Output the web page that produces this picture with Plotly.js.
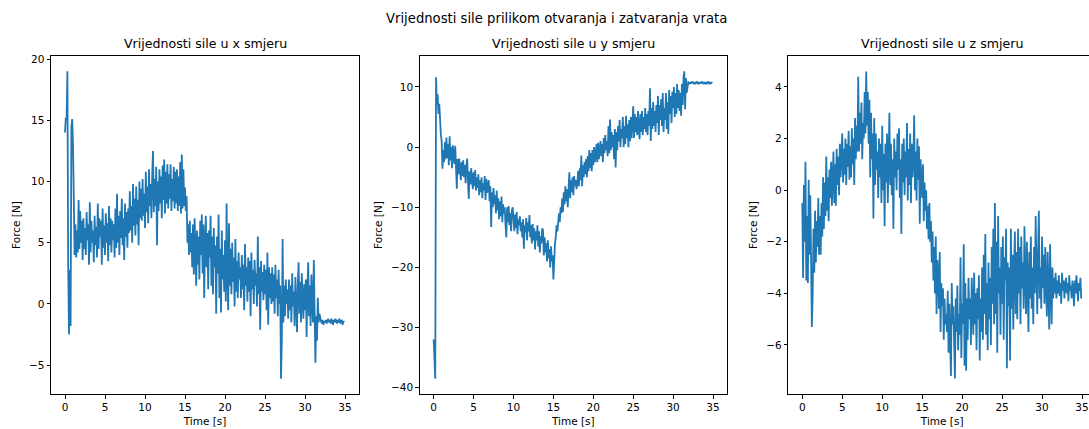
<!DOCTYPE html>
<html>
<head>
<meta charset="utf-8">
<script src="https://cdn.plot.ly/plotly-3.0.1.min.js"></script>
<style>
html,body{margin:0;padding:0;overflow:hidden;background:#fff;}
#chart{width:1100px;height:429px;}
</style>
</head>
<body>
<div id="chart"></div>
<script>
// sampling interval of the recorded signals [s]
const sampleStep = 0.1;

const forceX = [
  14, 15.2, 15, 19, 3, -2.5, 2.8, -1.8, 14.5, 15.1,
  13, 5, 4, 6.5, 3.8, 6, 4.2, 8.5, 4.5, 7.6,
  5, 6.8, 3.6, 7, 4.5, 6.2, 4, 7.5, 5.2, 6.5,
  3.2, 8.3, 4.2, 6.8, 5, 6, 3.4, 7.2, 4.8, 6.3,
  3.8, 8.2, 4.5, 7, 5.5, 6.8, 3.2, 7.8, 4.6, 6.4,
  4, 7.4, 5, 6.6, 3.5, 8, 4.8, 7, 4.2, 6.8,
  5.2, 6.5, 3.8, 7.8, 4.6, 9, 5, 7.2, 4, 7.6,
  5.4, 8.6, 4.8, 7, 3.6, 8.2, 5.5, 7.5, 4.6, 7.8,
  5.8, 9.2, 6, 8, 5, 9.8, 6.4, 8.6, 5.6, 9.6,
  6.5, 8.5, 4.8, 10, 7, 9.4, 6.8, 10.2, 7.2, 9,
  6.2, 10.8, 7.5, 9.6, 6.6, 11, 8, 9.8, 7, 10.5,
  12.5, 7.5, 10.2, 8, 11.2, 4.8, 10, 7.6, 11, 8.2,
  10.4, 7, 11.3, 8.5, 11.8, 7.4, 10.8, 8.2, 11.4, 7.8,
  10.6, 8.6, 11.4, 7.6, 10.2, 8.4, 11.2, 7.8, 10.8, 8.2,
  11, 7.6, 10.4, 8, 11.6, 7.4, 12.2, 7.8, 11, 8,
  9.5, 7.6, 8.8, 5, 6.5, 4, 6.8, 4.2, 5.8, 3,
  6.5, 2.4, 7, 4.5, 1.5, 6, 3.2, 5.5, 2, 6.8,
  4, 7.3, 2.5, 6.5, 0.5, 5, 7.2, 3, 5.8, 1.2,
  6, 3.8, 7.2, 1.5, 5.5, 0.8, 6.2, 3, 4.8, -0.8,
  5.5, 2.5, 7.3, 0.5, 4.5, -0.7, 6, 2, 4, 1,
  5.2, 0.2, 8.2, 2.5, -0.5, 6.6, 1.5, 4.5, 0.8, 5,
  1.8, 3.8, -0.2, 5.3, 1, 3.5, 0.5, 4.2, 2, 3,
  0.5, 4, 1.2, 3.2, -0.5, 4.9, 1.5, 3, 0.2, 3.8,
  1, 3.5, -1, 4.2, 1.2, 2.8, 0, 3.6, 1.5, 2.5,
  -0.2, 5.5, 0.8, 3, -2.1, 3.5, 1, 2.6, 0.3, 3.2,
  0.8, 2.8, -0.5, 4.2, -1.7, 3, 0.5, 2.5, 0, 3,
  0.2, 2.4, -0.8, 3.2, 0.5, 2, -1, 2.8, 0, 1.5,
  -6.1, -3, 5.3, -1.5, 1.5, -1, 2, 0, 1.2, -1.2,
  2, -0.5, 1.5, -1.5, 2.5, -0.2, 1, -1.8, 2.2, 0,
  -2.3, 1.5, 3.4, -0.8, 1.8, -1.5, 2.5, 0.2, -1.2, 1.6,
  -0.5, 2, -2.7, 1.2, 3.4, -1, 1.5, -1.8, 2.4, 0,
  -1.5, 3.6, -0.5, -4.8, -1, -3, 0.5, -1.5, -0.8, -1.2,
  -1.4, -1.6, -1.3, -1.7, -1.4, -1.5, -1.3, -1.6, -1.3, -1.2,
  -1.5, -1.3, -1.6, -1.2, -1.4, -1.7, -1.3, -1.5, -1.2, -1.4,
  -1.6, -1.3, -1.5, -1.2, -1.6, -1.4, -1.3, -1.7, -1.4, -1.5
];

const forceY = [
  -32, -34.5, -38.5, 11.6, 7, 8.8, 5.5, 7.2, 3, 2.2,
  1, -3.6, -0.5, -2.5, 0.8, -2, 1.6, -1.8, 0.5, -3,
  1.8, -2.2, 0, -3.5, 0.3, -1.5, -2.8, 0.2, -4, -6.9,
  -2, -4.5, -1.9, -3.8, -5.5, -2.5, -4.8, -2.2, -5, -3,
  -6, -3.2, -1.9, -5.8, -8.6, -4, -6.2, -3.5, -5.5, -7,
  -4.2, -6.5, -3.8, -7.2, -5, -6.8, -4.5, -8, -5.5, -7.5,
  -5, -8.5, -6, -7.2, -4.8, -8.8, -5.3, -7.6, -6.4, -5.5,
  -9, -6.5, -13.3, -7.5, -10, -6.8, -9.5, -8, -11, -7.2,
  -10.5, -8.5, -12, -9, -11.5, -8.2, -12.5, -9.5, -11, -10,
  -12.8, -15, -10, -12.5, -9.8, -13, -11, -14, -10.5, -10,
  -12, -14, -11.2, -13.5, -10.8, -14.5, -12, -13, -11.5, -14,
  -12.5, -15, -12, -16.9, -13, -14.2, -11.8, -15.5, -12.5, -14,
  -11.3, -15, -13, -16, -12.8, -15.5, -13.5, -17, -14, -15.5,
  -13, -16.5, -14, -17.5, -14.8, -16, -13.5, -13.8, -18, -15,
  -17.5, -16, -19, -15.5, -18.5, -17, -20, -16.5, -19, -18,
  -22, -17, -16, -15, -13, -14, -12, -11, -12.5, -10,
  -11, -8.5, -10.8, -7.5, -9.5, -6.5, -9, -7, -10, -6,
  -4.2, -8.5, -5.5, -7.5, -5, -8, -4.8, -6.5, -5.5, -7,
  -6, -4, -6.5, -3.5, -5.5, -1.4, -6.5, -3, -5, -2.5,
  -4.5, -2, -5, -1.5, -4, -0.5, -3.5, -1, -4, -0.5,
  -3, 0, -2.5, -1.5, 0.5, -2.5, 0.7, -2, -0.5, 1,
  -1.5, 0.5, -2.5, 1.5, -1, 2, -0.5, 1, -1.5, 3.5,
  -1, 4.6, -0.5, 2.5, 0, 2, -2, 3, -3.4, 2.5,
  -0.5, 3.5, 1, 4.5, 0, 3, 1.5, 5, 0, 3.5,
  0.5, 5.2, 1.5, 3.8, 0, 4.5, 1, 5, 1.5, 4,
  6.8, 1.5, 5.5, 2.5, 5, 2, 6, 3, 1.3, 5.5,
  2.5, 6, 2, 5, 3, 6.5, 2.5, 5.5, 2, 6,
  3.5, 9.8, 1, 6.5, 3, 7.5, 3.5, 6, 2.5, 7,
  4, 8.5, 2, 7, 4.5, 8, 3.5, 9, 2.5, 6.5,
  4.5, 9, 3, 7.5, 2.2, 9.5, 5.5, 8.5, 4, 9.2,
  6.5, 10, 5, 9, 5.5, 10.5, 6.5, 9.5, 6, 9,
  5.2, 10.5, 7, 11.5, 12.6, 6.3, 11.5, 9, 10.5, 10.8,
  10.7, 10.5, 10.8, 10.6, 10.9, 10.7, 10.5, 10.8, 10.6, 10.7,
  10.9, 10.6, 10.7, 10.5, 10.8, 10.6, 10.9, 10.7, 10.5, 10.8,
  10.6, 10.8, 10.5, 10.7, 10.9, 10.6, 10.7, 10.5, 10.8, 10.6
];

const forceZ = [
  -0.5, -3.4, 0.2, -2, 1.1, -3.5, -1, -3.6, 0.4, -2.5,
  -0.2, -3, -5.3, -4, -1.5, -3.2, -0.8, -2.8, -1.2, -2.2,
  -0.3, -2.5, -1, -2.5, -0.5, -1.8, 0.5, -1.5, 0.3, -1,
  1.3, -0.8, 0.5, -1.2, 0.8, -0.3, 1.1, -0.6, 0.4, 1.5,
  -0.5, 1, -0.6, 1.6, 0.2, 1.3, -0.2, 1.8, 0.5, 1.1,
  2.2, 0.3, 1.6, 0.6, 2, 0.2, 1.8, 0.9, 2.3, 0.4,
  1.7, 0.5, 2.4, 1, 2, 0.2, 2.8, 1.2, 2.5, 1.5,
  4.4, 1.5, 3, 1.8, 3.4, 1.2, 2.6, 2, 3.8, 2.2,
  4.6, 2.5, 3.8, 1.8, 3.5, 0.5, 3, 1.2, 2.2, -1.1,
  2.8, 0.2, 2.2, 0.8, 1.5, -0.3, 2, 0.5, 1.8, -0.5,
  2.5, 0, 1.4, -1.4, 1.8, 0.3, 2.2, -0.5, 1.2, 3,
  0.2, 1.8, -0.2, 1.2, -1.5, 2, 0.5, 1.5, 0, 2.2,
  0.8, 2.4, -0.3, 1.2, -1.7, 1.8, 0.3, 2, -0.2, 1.5,
  0.5, 2.6, -0.4, 1.6, 0.2, 2.2, -0.5, 1.8, 0.5, 1.2,
  2.9, 0, 1.5, -0.4, 2, 0.4, 1.7, -1.3, 1.2, 0.6,
  -0.3, 1, -1.2, 0.3, -0.8, 0, -1.5, -0.6, -1.9, -0.5,
  -2, -1.2, -2.8, -1.6, -3.5, -2.2, -4, -1.8, -4.8, -2.7,
  -3.2, -4.6, -2.4, -5.5, -3.6, -4.5, -3.8, -5.8, -4.2, -5.2,
  -4.8, -5.5, -3.9, -6.3, -4.4, -5.8, -7.2, -3.6, -5.2, -4.5,
  -6, -7.3, -4.2, -5.5, -3.7, -6.2, -4.8, -5.6, -2.6, -6.5,
  -4.4, -5.2, -2.1, -6.8, -3.6, -7, -4.2, -5.8, -3.4, -5,
  -4.2, -6, -3.4, -4.8, -5.6, -3.2, -5.2, -4, -6.2, -3.8,
  -5, -3.3, -6.6, -4.2, -5.5, -3, -5.8, -2.5, -4.8, -1.7,
  -5.6, -3.6, -6.2, -2.8, -5, -3.4, -6, -2.2, -4.4, -1.5,
  -5.2, -0.5, -4.8, -2, -6.3, -1, -4, -3, -5.6, -2.2,
  -4.4, -1.8, -5.8, -2.6, -3.5, -1.5, -6.9, -2.8, -4.5, -3,
  -6.6, -1.5, -4.6, -2.5, -5.4, -3, -1.6, -4.8, -2.4, -5,
  -1.5, -4, -2.2, -5.2, -1.8, -3.8, -2.8, -4.6, -1.4, -3.4,
  -4.8, -2, -3.6, -5.5, -2.4, -4.2, -1.8, -4.6, -3, -5.2,
  -2.2, -4, -1, -3.6, -4.8, -2.5, -0.8, -4.2, -3, -4.6,
  -1.8, -3.8, -2.5, -4.4, -2.2, -3.6, -4.9, -2.4, -3.5, -5.4,
  -2.1, -3.8, -5.2, -3, -4.2, -3.4, -4, -3.2, -4.2, -3.5,
  -4, -3.3, -4.1, -3.6, -4.4, -3.2, -3.9, -3.5, -4.2, -3.7,
  -3.4, -4, -3.6, -4.3, -3.3, -3.9, -3.7, -4.2, -3.5, -3.8,
  -4.5, -3.5, -4, -3.3, -3.8, -4.3, -3.6, -3.9, -3.4, -4.2
];

const mainTitle = "Vrijednosti sile prilikom otvaranja i zatvaranja vrata";
const panelTitles = ["Vrijednosti sile u x smjeru", "Vrijednosti sile u y smjeru", "Vrijednosti sile u z smjeru"];
const xLabel = "Time [s]";
const yLabel = "Force [N]";

(function () {
  const timeOf = arr => arr.map((_, i) => +(i * sampleStep).toFixed(2));
  const series = [forceX, forceY, forceZ];

  const W = 1100, H = 429;
  const lineColor = '#1f77b4';
  const font = "DejaVu Sans, sans-serif";
  const tickSize = 10.5, labelSize = 10.5, panelTitleSize = 12.6, mainTitleSize = 13.2;

  const traces = series.map((vals, k) => ({
    x: timeOf(vals),
    y: vals,
    type: 'scatter',
    mode: 'lines',
    line: {color: lineColor, width: 1.8},
    xaxis: k === 0 ? 'x' : 'x' + (k + 1),
    yaxis: k === 0 ? 'y' : 'y' + (k + 1),
    showlegend: false
  }));

  // pixel boxes of the three axes
  const boxes = [[51, 359], [419.7, 727], [788.3, 1096]];
  const boxTop = 56, boxBottom = 394;
  const yDom = [1 - boxBottom / H, 1 - boxTop / H];
  const yRanges = [[-7.35, 20.25], [-41.05, 15.15], [-7.9, 5.2]];
  const yDticks = [5, 10, 2];

  function xAxis(k) {
    return {
      domain: [boxes[k][0] / W, boxes[k][1] / W],
      anchor: k === 0 ? 'y' : 'y' + (k + 1),
      range: [-1.75, 36.75],
      tickmode: 'linear', tick0: 0, dtick: 5,
      showgrid: false, zeroline: false,
      showline: true, mirror: true, linecolor: '#000', linewidth: 1,
      ticks: 'outside', ticklen: 3.5, tickwidth: 1, tickcolor: '#000',
      tickfont: {family: font, size: tickSize, color: '#000'},
      title: {text: xLabel, font: {family: font, size: labelSize, color: '#000'}, standoff: 5},
      automargin: false
    };
  }
  function yAxis(k) {
    return {
      domain: yDom,
      anchor: k === 0 ? 'x' : 'x' + (k + 1),
      range: yRanges[k],
      tickmode: 'linear', tick0: 0, dtick: yDticks[k],
      showgrid: false, zeroline: false,
      showline: true, mirror: true, linecolor: '#000', linewidth: 1,
      ticks: 'outside', ticklen: 3.5, tickwidth: 1, tickcolor: '#000',
      tickfont: {family: font, size: tickSize, color: '#000'},
      title: {text: yLabel, font: {family: font, size: labelSize, color: '#000'}, standoff: 6},
      automargin: false
    };
  }

  const annotations = [{
    text: mainTitle, xref: 'paper', yref: 'paper',
    x: 556 / W, y: 1 - 18 / H, xanchor: 'center', yanchor: 'middle',
    showarrow: false, font: {family: font, size: mainTitleSize, color: '#000'}
  }].concat(panelTitles.map((t, k) => ({
    text: t, xref: 'paper', yref: 'paper',
    x: (boxes[k][0] + boxes[k][1]) / 2 / W, y: 1 - 44 / H,
    xanchor: 'center', yanchor: 'middle', showarrow: false,
    font: {family: font, size: panelTitleSize, color: '#000'}
  })));

  const layout = {
    width: W, height: H,
    margin: {l: 0, r: 0, t: 0, b: 0},
    paper_bgcolor: '#fff', plot_bgcolor: '#fff',
    font: {family: font, size: 10, color: '#000'},
    showlegend: false,
    annotations: annotations,
    xaxis: xAxis(0), yaxis: yAxis(0),
    xaxis2: xAxis(1), yaxis2: yAxis(1),
    xaxis3: xAxis(2), yaxis3: yAxis(2)
  };

  Plotly.newPlot('chart', traces, layout, {displayModeBar: false, staticPlot: true});
})();
</script>
</body>
</html>
